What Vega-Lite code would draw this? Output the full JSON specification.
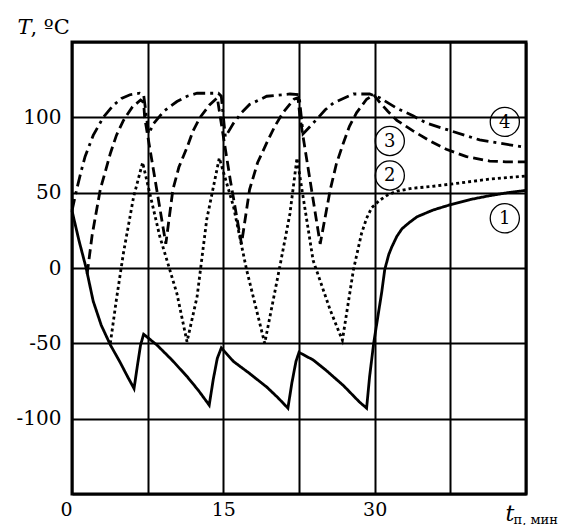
{
  "$schema": "https://vega.github.io/schema/vega-lite/v6.json",
  "width": 454,
  "height": 452,
  "autosize": "none",
  "padding": {"left": 72, "top": 42, "right": 41, "bottom": 31},
  "background": "white",
  "config": {"view": {"stroke": "black", "strokeWidth": 3}, "font": "DejaVu Serif"},
  "datasets": {
    "curves": [
      {"s":"1","time":0,"temp":38},{"s":"1","time":0.7,"temp":18},{"s":"1","time":1.4,"temp":0},{"s":"1","time":2.1,"temp":-22},{"s":"1","time":2.9,"temp":-38},{"s":"1","time":3.8,"temp":-51},{"s":"1","time":4.8,"temp":-63},{"s":"1","time":5.5,"temp":-72},{"s":"1","time":6.15,"temp":-80},{"s":"1","time":6.5,"temp":-64},{"s":"1","time":6.8,"temp":-51},{"s":"1","time":7.1,"temp":-44},{"s":"1","time":8.4,"temp":-51},{"s":"1","time":9.9,"temp":-61},{"s":"1","time":11.4,"temp":-72},{"s":"1","time":12.5,"temp":-81},{"s":"1","time":13.6,"temp":-91},{"s":"1","time":14.0,"temp":-74},{"s":"1","time":14.4,"temp":-60},{"s":"1","time":14.8,"temp":-53},{"s":"1","time":16.0,"temp":-62},{"s":"1","time":17.6,"temp":-70},{"s":"1","time":19.3,"temp":-79},{"s":"1","time":20.4,"temp":-86},{"s":"1","time":21.4,"temp":-93},{"s":"1","time":21.8,"temp":-76},{"s":"1","time":22.2,"temp":-62},{"s":"1","time":22.5,"temp":-56},{"s":"1","time":23.9,"temp":-61},{"s":"1","time":25.2,"temp":-68},{"s":"1","time":26.9,"temp":-78},{"s":"1","time":28.5,"temp":-89},{"s":"1","time":29.2,"temp":-93},{"s":"1","time":29.5,"temp":-72},{"s":"1","time":29.9,"temp":-50},{"s":"1","time":30.3,"temp":-33},{"s":"1","time":30.7,"temp":-16},{"s":"1","time":31.0,"temp":-1},{"s":"1","time":31.4,"temp":9},{"s":"1","time":31.7,"temp":14},{"s":"1","time":32.2,"temp":21},{"s":"1","time":32.7,"temp":26},{"s":"1","time":33.4,"temp":30},{"s":"1","time":34.2,"temp":34},{"s":"1","time":35.8,"temp":38.5},{"s":"1","time":37.5,"temp":42},{"s":"1","time":39.5,"temp":45.5},{"s":"1","time":41.4,"temp":48},{"s":"1","time":43.2,"temp":50},{"s":"1","time":45,"temp":51.5},
      {"s":"2","time":3.8,"temp":-50},{"s":"2","time":4.4,"temp":-21},{"s":"2","time":5.1,"temp":10},{"s":"2","time":6.1,"temp":47},{"s":"2","time":7.0,"temp":70},{"s":"2","time":8.7,"temp":21},{"s":"2","time":10.4,"temp":-17},{"s":"2","time":11.4,"temp":-49},{"s":"2","time":12.4,"temp":-19},{"s":"2","time":13.35,"temp":32},{"s":"2","time":14.6,"temp":73},{"s":"2","time":16.0,"temp":41},{"s":"2","time":17.3,"temp":-1},{"s":"2","time":19.1,"temp":-50},{"s":"2","time":20.6,"temp":1},{"s":"2","time":21.6,"temp":36},{"s":"2","time":22.3,"temp":73},{"s":"2","time":23.9,"temp":5},{"s":"2","time":25.6,"temp":-28},{"s":"2","time":26.8,"temp":-48},{"s":"2","time":27.9,"temp":-1},{"s":"2","time":28.7,"temp":23},{"s":"2","time":29.2,"temp":33},{"s":"2","time":29.7,"temp":40},{"s":"2","time":30.5,"temp":45},{"s":"2","time":31.3,"temp":48.5},{"s":"2","time":32.2,"temp":51},{"s":"2","time":33.8,"temp":53},{"s":"2","time":35.5,"temp":54},{"s":"2","time":38.5,"temp":56.5},{"s":"2","time":41.4,"temp":59},{"s":"2","time":45,"temp":61},
      {"s":"3","time":1.5,"temp":-4},{"s":"3","time":2.0,"temp":22},{"s":"3","time":2.8,"temp":52},{"s":"3","time":3.8,"temp":76},{"s":"3","time":4.4,"temp":88},{"s":"3","time":5.1,"temp":98},{"s":"3","time":6.0,"temp":107},{"s":"3","time":6.8,"temp":111.5},{"s":"3","time":7.1,"temp":110},{"s":"3","time":7.2,"temp":100},{"s":"3","time":8.4,"temp":52},{"s":"3","time":9.3,"temp":16},{"s":"3","time":10.0,"temp":52},{"s":"3","time":10.6,"temp":67},{"s":"3","time":11.4,"temp":80},{"s":"3","time":12.0,"temp":91},{"s":"3","time":12.7,"temp":100},{"s":"3","time":13.6,"temp":108},{"s":"3","time":14.4,"temp":113},{"s":"3","time":14.7,"temp":100},{"s":"3","time":15.7,"temp":58},{"s":"3","time":16.8,"temp":16},{"s":"3","time":17.6,"temp":52},{"s":"3","time":18.4,"temp":70},{"s":"3","time":19.3,"temp":83},{"s":"3","time":20.1,"temp":94},{"s":"3","time":20.9,"temp":103},{"s":"3","time":22.0,"temp":112},{"s":"3","time":22.4,"temp":113},{"s":"3","time":22.6,"temp":100},{"s":"3","time":23.6,"temp":58},{"s":"3","time":24.6,"temp":16},{"s":"3","time":25.6,"temp":52},{"s":"3","time":26.2,"temp":69},{"s":"3","time":26.9,"temp":83},{"s":"3","time":27.5,"temp":94},{"s":"3","time":28.2,"temp":103},{"s":"3","time":29.2,"temp":112},{"s":"3","time":29.9,"temp":115},{"s":"3","time":30.5,"temp":110},{"s":"3","time":31.3,"temp":104},{"s":"3","time":32.2,"temp":98},{"s":"3","time":33.8,"temp":91},{"s":"3","time":35.5,"temp":84.3},{"s":"3","time":37.1,"temp":78.8},{"s":"3","time":39.1,"temp":73.9},{"s":"3","time":41.4,"temp":71},{"s":"3","time":43,"temp":70.5},{"s":"3","time":45,"temp":70.5},
      {"s":"4","time":0,"temp":38},{"s":"4","time":0.46,"temp":52},{"s":"4","time":0.9,"temp":64},{"s":"4","time":1.3,"temp":74},{"s":"4","time":2.1,"temp":88},{"s":"4","time":3.1,"temp":100},{"s":"4","time":4.1,"temp":108},{"s":"4","time":4.9,"temp":112.5},{"s":"4","time":5.75,"temp":115},{"s":"4","time":6.7,"temp":116},{"s":"4","time":7.1,"temp":115},{"s":"4","time":7.6,"temp":89},{"s":"4","time":8.1,"temp":96},{"s":"4","time":9.1,"temp":104},{"s":"4","time":10.4,"temp":110.5},{"s":"4","time":11.4,"temp":114},{"s":"4","time":12.4,"temp":116},{"s":"4","time":14.5,"temp":116},{"s":"4","time":14.8,"temp":114},{"s":"4","time":15.2,"temp":87},{"s":"4","time":16.0,"temp":96},{"s":"4","time":16.8,"temp":103},{"s":"4","time":17.6,"temp":108.5},{"s":"4","time":19.3,"temp":114},{"s":"4","time":21.6,"temp":115.5},{"s":"4","time":22.5,"temp":115},{"s":"4","time":22.9,"temp":89},{"s":"4","time":24.3,"temp":99},{"s":"4","time":25.1,"temp":105},{"s":"4","time":25.9,"temp":109.5},{"s":"4","time":27.9,"temp":115.5},{"s":"4","time":29.5,"temp":115.5},{"s":"4","time":30.5,"temp":113},{"s":"4","time":32.2,"temp":106},{"s":"4","time":33.8,"temp":101},{"s":"4","time":35.2,"temp":96},{"s":"4","time":37.1,"temp":92},{"s":"4","time":40.4,"temp":85},{"s":"4","time":45,"temp":80}
    ],
    "labels": [
      {"n":"4","time":42.9,"temp":97},
      {"n":"3","time":31.5,"temp":84.3},
      {"n":"2","time":31.5,"temp":61.4},
      {"n":"1","time":42.9,"temp":33}
    ]
  },
  "layer": [
    {
      "data": {"name": "curves"},
      "mark": {"type": "line", "stroke": "black", "strokeWidth": 2.8, "strokeCap": "butt", "interpolate": "linear"},
      "encoding": {
        "x": {"field": "time", "type": "quantitative", "scale": {"domain": [0, 45], "nice": false, "zero": false},
          "axis": {"values": [0, 7.5, 15, 22.5, 30, 37.5, 45], "grid": true, "gridColor": "black", "gridWidth": 2, "gridOpacity": 1,
            "domain": false, "ticks": false, "labelFlush": false, "labelOverlap": false,
            "labelExpr": "datum.value==0||datum.value==15||datum.value==30 ? datum.label : ''",
            "labelAlign": {"expr": "datum.value==0 ? 'right' : 'center'"},
            "labelFont": "DejaVu Serif", "labelFontSize": 19, "labelColor": "black", "labelPadding": 6,
            "title": "t", "titleFont": "DejaVu Serif", "titleFontStyle": "italic", "titleFontWeight": "normal", "titleFontSize": 22, "titleColor": "black",
            "titleX": 433, "titleY": 26, "titleAlign": "left", "titleBaseline": "alphabetic"}},
        "y": {"field": "temp", "type": "quantitative", "scale": {"domain": [-150, 150], "nice": false, "zero": false},
          "axis": {"values": [-150, -100, -50, 0, 50, 100, 150], "grid": true, "gridColor": "black", "gridWidth": 2, "gridOpacity": 1,
            "domain": false, "ticks": false, "labelOverlap": false, "labelFlush": false,
            "labelExpr": "abs(datum.value) < 150 ? toString(datum.value) : ''",
            "labelFont": "DejaVu Serif", "labelFontSize": 20, "labelColor": "black", "labelPadding": 11, "labelBaseline": "middle",
            "title": "T", "titleFont": "DejaVu Serif", "titleFontStyle": "italic", "titleFontWeight": "normal", "titleFontSize": 21, "titleColor": "black",
            "titleAngle": 0, "titleX": -55, "titleY": -9, "titleAlign": "left", "titleBaseline": "alphabetic"}},
        "strokeDash": {"field": "s", "type": "nominal", "legend": null,
          "scale": {"domain": ["1", "2", "3", "4"], "range": [[1, 0], [3, 3], [10, 5], [12, 5, 3, 5]]}},
        "detail": {"field": "s"}
      }
    },
    {
      "data": {"name": "labels"},
      "mark": {"type": "point", "shape": "circle", "filled": false, "stroke": "black", "strokeWidth": 1.3, "size": 850, "opacity": 1},
      "encoding": {
        "x": {"field": "time", "type": "quantitative", "scale": {"domain": [0, 45], "nice": false, "zero": false},
          "axis": {"orient": "top", "labels": false, "ticks": false, "domain": false, "grid": false,
            "title": "п, мин", "titleFont": "DejaVu Serif", "titleFontStyle": "normal", "titleFontWeight": "normal", "titleFontSize": 13, "titleColor": "black",
            "titleX": 441, "titleY": 481, "titleAlign": "left", "titleBaseline": "alphabetic"}},
        "y": {"field": "temp", "type": "quantitative", "scale": {"domain": [-150, 150], "nice": false, "zero": false},
          "axis": {"orient": "right", "labels": false, "ticks": false, "domain": false, "grid": false,
            "title": ", ºC", "titleFont": "DejaVu Serif", "titleFontStyle": "normal", "titleFontWeight": "normal", "titleFontSize": 21, "titleColor": "black",
            "titleAngle": 0, "titleX": -496, "titleY": -9, "titleAlign": "left", "titleBaseline": "alphabetic"}}
      }
    },
    {
      "data": {"name": "labels"},
      "mark": {"type": "text", "font": "DejaVu Serif", "fontSize": 18, "color": "black", "align": "center", "baseline": "middle", "dy": 1},
      "encoding": {
        "x": {"field": "time", "type": "quantitative", "axis": null},
        "y": {"field": "temp", "type": "quantitative", "axis": null},
        "text": {"field": "n"}
      }
    }
  ],
  "resolve": {"axis": {"x": "independent", "y": "independent"}}
}
